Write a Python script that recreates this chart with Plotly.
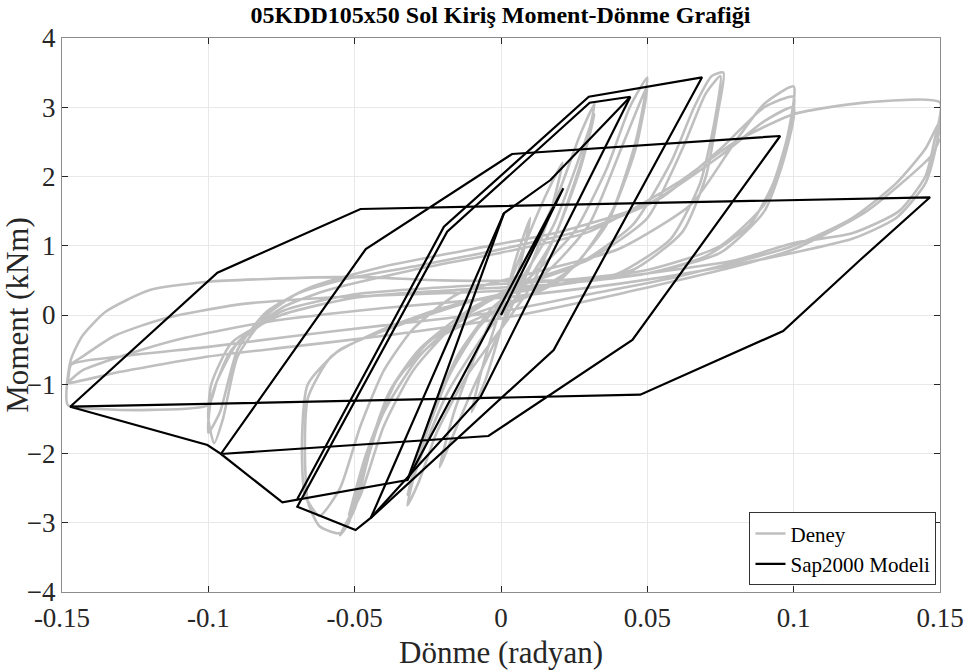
import plotly.graph_objects as go

# ---- Sap2000 model path (rotation, moment); None separates drawn chains ----
model_x = [0.0, 0.0213, -0.0320, -0.0696, -0.0747, -0.0957, -0.0462, 0.0038, 0.0954, 0.0449, -0.0043,
           -0.0957, -0.1003, -0.1472, -0.0969, -0.0480, 0.1466, 0.1227, 0.0964, 0.0476, -0.1472, None,
           -0.0696, -0.0195, 0.0300, 0.0687, 0.0180, -0.0445, -0.0497, -0.0696, -0.0184, 0.0303, 0.0442,
           0.0169, 0.0010, -0.0320, None,
           0.0442, -0.0070, -0.0445, None,
           -0.0445, 0.0010]
model_y = [0.0, 1.830, -2.383, -2.657, -2.705, -2.007, 0.953, 2.325, 2.585, -0.361, -1.747,
           -2.007, -1.877, -1.324, 0.611, 1.531, 1.700, 0.794, -0.231, -1.151, -1.324, None,
           -2.657, 1.275, 3.152, 3.432, -0.505, -2.931, -3.105, -2.768, 1.203, 3.066, 3.152,
           1.949, 1.469, -2.383, None,
           3.152, -1.184, -2.931, None,
           -2.931, 1.469]

# ---- Experimental (Deney) path ----
test_x = [0.0, 0.005, 0.01, 0.007, 0.0, -0.005, -0.01, -0.006, 0.0,
          0.008, 0.015, 0.021, 0.017, 0.01, 0.0, -0.01, -0.016, -0.021, -0.016, -0.008, 0.0,
          0.01, 0.02, 0.027, 0.032, 0.028, 0.02, 0.01, 0.0, -0.012, -0.022, -0.028, -0.032, -0.027, -0.018, -0.008,
          0.005, 0.018, 0.027, 0.032, 0.027, 0.018, 0.006, -0.006, -0.018, -0.027, -0.032, -0.026, -0.015, -0.003,
          0.01, 0.025, 0.036, 0.044, 0.05, 0.046, 0.038, 0.025, 0.01, -0.01, -0.025, -0.038, -0.047, -0.052, -0.055,
          -0.048, -0.04, -0.03, -0.015, 0.0, 0.015, 0.03, 0.042, 0.05, 0.046, 0.036, 0.02, 0.0, -0.02, -0.035, -0.046,
          -0.052, -0.048, -0.04, -0.028, -0.012,
          0.005, 0.025, 0.045, 0.058, 0.066, 0.072, 0.076, 0.074, 0.07, 0.062, 0.045, 0.02, 0.0, -0.02, -0.04, -0.058,
          -0.066, -0.067, -0.066, -0.062, -0.055, -0.05, -0.045, -0.038, -0.028, -0.01, 0.01, 0.03, 0.05, 0.062, 0.07,
          0.075, 0.073, 0.068, 0.058, 0.04, 0.015, -0.01, -0.035, -0.055, -0.066, -0.068, -0.067, -0.062, -0.055,
          -0.048, -0.04, -0.03,
          -0.015, 0.01, 0.04, 0.065, 0.08, 0.09, 0.1, 0.098, 0.093, 0.085, 0.07, 0.05, 0.02, -0.02, -0.05, -0.075,
          -0.092, -0.099, -0.1, -0.098, -0.095, -0.09, -0.08, -0.07, -0.055, -0.03, 0.0, 0.03, 0.055, 0.075, 0.09,
          0.1, 0.097, 0.09, 0.075, 0.05, 0.02, -0.02, -0.05, -0.075, -0.092, -0.099, -0.1, -0.096, -0.09, -0.08,
          -0.065, -0.04, -0.01, 0.02, 0.05, 0.075, 0.09, 0.1,
          0.097, 0.09, 0.075, 0.05, 0.02, -0.02, -0.05, -0.08, -0.1, -0.12, -0.135, -0.143, -0.147, -0.148, -0.135,
          -0.12, -0.1, -0.097, -0.09, -0.075, -0.06, -0.03, 0.0, 0.03, 0.06, 0.08, 0.1, 0.125, 0.15, 0.148, 0.145,
          0.136, 0.12, 0.1, 0.08, 0.05, 0.03, 0.0, -0.03, -0.06, -0.09, -0.115, -0.132, -0.143, -0.147, -0.148,
          -0.147, -0.13, -0.1, -0.072, -0.04, 0.0, 0.03, 0.06, 0.1, 0.12, 0.135, 0.145, 0.15, 0.149, 0.145, 0.135,
          0.12, 0.1, 0.07, 0.04, 0.0, -0.04, -0.08, -0.11, -0.13, -0.143, -0.148, -0.147, -0.13, -0.1, -0.072,
          -0.04, 0.0, 0.04, 0.08, 0.1, 0.125, 0.147, 0.15]
test_y = [0.0, 0.8, 1.4, 0.8, -0.2, -0.9, -1.4, -0.7, 0.1,
          1.0, 1.7, 2.2, 1.5, 0.7, -0.2, -1.1, -1.7, -2.2, -1.4, -0.5, 0.2,
          0.9, 1.8, 2.6, 3.05, 2.3, 1.3, 0.4, -0.2, -0.9, -1.7, -2.4, -2.75, -1.9, -0.9, -0.2,
          0.4, 1.3, 2.3, 2.9, 2.1, 1.1, 0.3, -0.3, -1.1, -2.0, -2.6, -1.7, -0.6, 0.1,
          0.55, 1.2, 2.1, 3.0, 3.43, 2.5, 1.5, 0.7, 0.3, 0.0, -0.4, -1.1, -2.2, -3.0, -3.18,
          -2.6, -1.6, -0.8, -0.1, 0.3, 0.6, 1.3, 2.5, 3.3, 2.4, 1.3, 0.5, 0.1, -0.3, -0.9, -2.0,
          -2.9, -2.3, -1.4, -0.6, 0.0,
          0.4, 0.7, 1.3, 2.2, 3.0, 3.45, 3.5, 2.9, 2.0, 1.2, 0.65, 0.45, 0.3, 0.1, -0.2, -0.6,
          -1.2, -2.0, -2.7, -3.05, -3.15, -2.8, -2.0, -1.1, -0.5, 0.1, 0.5, 0.8, 1.4, 2.4, 3.2,
          3.45, 2.8, 1.9, 1.1, 0.6, 0.4, 0.2, -0.15, -0.5, -1.0, -1.8, -2.6, -2.9, -2.5,
          -1.6, -0.8, -0.2,
          0.3, 0.6, 0.95, 1.6, 2.5, 3.05, 3.3, 2.6, 1.9, 1.3, 0.85, 0.6, 0.45, 0.35, 0.25, 0.0,
          -0.4, -1.0, -1.5, -1.85, -1.5, -0.6, 0.0, 0.3, 0.5, 0.7, 0.95, 1.25, 1.7, 2.4, 3.0,
          3.15, 2.4, 1.6, 1.0, 0.65, 0.5, 0.4, 0.3, 0.05, -0.5, -1.2, -1.7, -1.4, -0.5, 0.05,
          0.4, 0.7, 0.95, 1.2, 1.6, 2.3, 2.8, 3.0,
          2.3, 1.5, 0.9, 0.6, 0.5, 0.5, 0.55, 0.52, 0.48, 0.36, 0.05, -0.3, -0.65, -1.3, -1.36,
          -1.37, -1.3, -0.95, -0.4, 0.1, 0.35, 0.65, 0.9, 1.2, 1.9, 2.5, 2.9, 3.07, 3.07, 2.5, 2.0,
          1.5, 1.18, 1.04, 0.79, 0.6, 0.5, 0.35, 0.3, 0.25, 0.15, -0.05, -0.3, -0.6, -0.72, -1.0,
          -0.72, -0.6, -0.46, -0.31, -0.15, 0.05, 0.3, 0.55, 1.0, 1.4, 1.9, 2.4, 2.8, 2.5, 1.9, 1.4,
          1.1, 0.9, 0.65, 0.45, 0.25, 0.1, -0.1, -0.35, -0.6, -0.8, -0.98, -0.98, -0.82, -0.6, -0.46,
          -0.3, -0.05, 0.3, 0.7, 0.95, 1.5, 2.3, 2.55]

x_ticks = [-0.15, -0.1, -0.05, 0, 0.05, 0.1, 0.15]
x_tick_labels = ["-0.15", "-0.1", "-0.05", "0", "0.05", "0.1", "0.15"]
y_ticks = [-4, -3, -2, -1, 0, 1, 2, 3, 4]

SERIF = "Liberation Serif, Times New Roman, serif"

fig = go.Figure()
fig.add_trace(go.Scatter(x=test_x, y=test_y, mode="lines", name="Deney",
                         line=dict(color="#bfbfbf", width=2.6, shape="spline", smoothing=0.6)))
fig.add_trace(go.Scatter(x=model_x, y=model_y, mode="lines", name="Sap2000 Modeli",
                         line=dict(color="#000000", width=2.2)))

axis_common = dict(showgrid=True, gridcolor="#e8e8e8", gridwidth=1, zeroline=False,
                   showline=True, linecolor="#8c8c8c", linewidth=1, mirror="ticks",
                   ticks="inside", ticklen=6, tickcolor="#262626", automargin=False,
                   tickfont=dict(family=SERIF, size=27, color="#262626"))

fig.update_layout(
    width=968, height=672,
    margin=dict(l=62, r=28, t=38, b=80),
    plot_bgcolor="white", paper_bgcolor="white",
    title=dict(text="<b>05KDD105x50 Sol Kiriş Moment-Dönme Grafiği</b>", x=0.517, xanchor="center",
               yref="container", y=0.979, yanchor="middle",
               font=dict(family=SERIF, size=24, color="#000")),
    xaxis=dict(range=[-0.15, 0.15], tickvals=x_ticks, ticktext=x_tick_labels, ticklabelstandoff=2,
               title=dict(text="Dönme (radyan)", font=dict(family=SERIF, size=31, color="#262626"), standoff=8),
               **axis_common),
    yaxis=dict(range=[-4, 4], tickvals=y_ticks,
               title=dict(text="Moment (kNm)", font=dict(family=SERIF, size=31, color="#262626"), standoff=2),
               **axis_common),
    legend=dict(x=0.996, y=0.012, xanchor="right", yanchor="bottom", bgcolor="white",
                bordercolor="#333333", borderwidth=1, font=dict(family=SERIF, size=21, color="#000"),
                itemwidth=30, tracegroupgap=0),
    showlegend=True,
)

fig.write_html("out.html", config={"displayModeBar": False},
               post_script="document.body.style.margin='0';")
